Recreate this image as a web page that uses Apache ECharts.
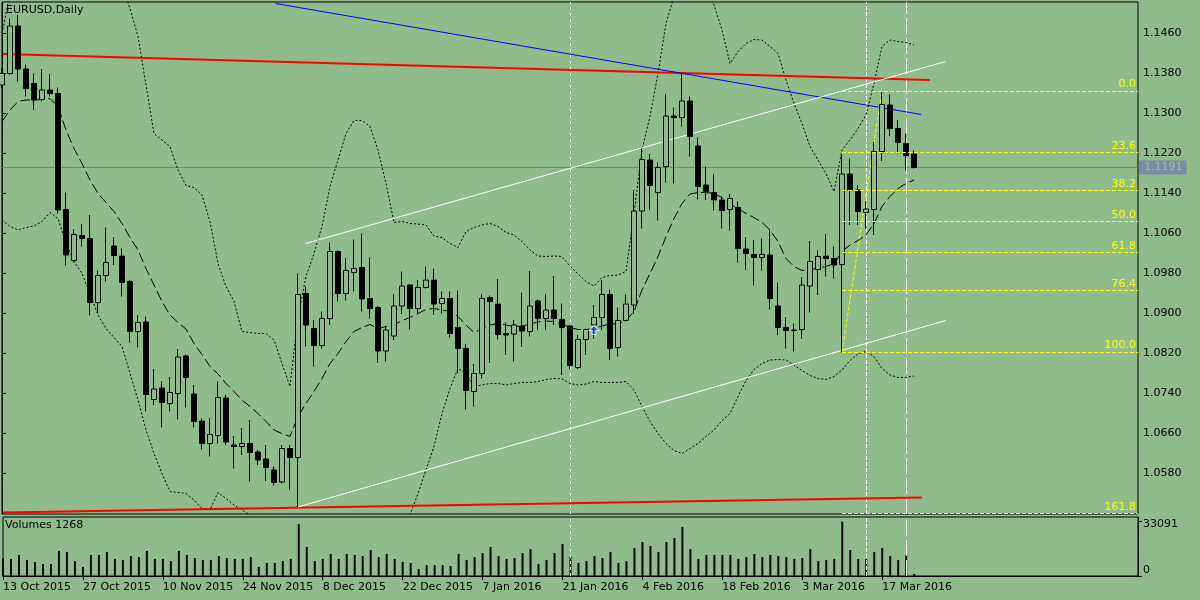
<!DOCTYPE html>
<html><head><meta charset="utf-8">
<script src="https://cdn.jsdelivr.net/npm/echarts@6/dist/echarts.min.js"></script>
<style>html,body{margin:0;padding:0;background:#8FBC8B}#c{width:1200px;height:600px}</style>
</head><body><div id="c"></div><script>
const categories = [
'2015.10.13','2015.10.14','2015.10.15','2015.10.16','2015.10.19','2015.10.20','2015.10.21','2015.10.22','2015.10.23','2015.10.26','2015.10.27','2015.10.28','2015.10.29','2015.10.30',
'2015.11.02','2015.11.03','2015.11.04','2015.11.05','2015.11.06','2015.11.09','2015.11.10','2015.11.11','2015.11.12','2015.11.13','2015.11.16','2015.11.17','2015.11.18','2015.11.19','2015.11.20','2015.11.23','2015.11.24','2015.11.25','2015.11.26','2015.11.27','2015.11.30',
'2015.12.01','2015.12.02','2015.12.03','2015.12.04','2015.12.07','2015.12.08','2015.12.09','2015.12.10','2015.12.11','2015.12.14','2015.12.15','2015.12.16','2015.12.17','2015.12.18','2015.12.21','2015.12.22','2015.12.23','2015.12.24','2015.12.28','2015.12.29','2015.12.30','2015.12.31',
'2016.01.04','2016.01.05','2016.01.06','2016.01.07','2016.01.08','2016.01.11','2016.01.12','2016.01.13','2016.01.14','2016.01.15','2016.01.18','2016.01.19','2016.01.20','2016.01.21','2016.01.22','2016.01.25','2016.01.26','2016.01.27','2016.01.28','2016.01.29',
'2016.02.01','2016.02.02','2016.02.03','2016.02.04','2016.02.05','2016.02.08','2016.02.09','2016.02.10','2016.02.11','2016.02.12','2016.02.15','2016.02.16','2016.02.17','2016.02.18','2016.02.19','2016.02.22','2016.02.23','2016.02.24','2016.02.25','2016.02.26','2016.02.29',
'2016.03.01','2016.03.02','2016.03.03','2016.03.04','2016.03.07','2016.03.08','2016.03.09','2016.03.10','2016.03.11','2016.03.14','2016.03.15','2016.03.16','2016.03.17','2016.03.18','2016.03.21','2016.03.22','2016.03.23',
'2016.03.24','2016.03.25','2016.03.28','2016.03.29','2016.03.30','2016.03.31','2016.04.01','2016.04.04','2016.04.05','2016.04.06','2016.04.07','2016.04.08','2016.04.11','2016.04.12','2016.04.13','2016.04.14','2016.04.15','2016.04.18','2016.04.19','2016.04.20','2016.04.21','2016.04.22','2016.04.25','2016.04.26','2016.04.27','2016.04.28','2016.04.29','2016.05.02'
];
const dateTickLabels = ['13 Oct 2015','27 Oct 2015','10 Nov 2015','24 Nov 2015','8 Dec 2015','22 Dec 2015','7 Jan 2016','21 Jan 2016','4 Feb 2016','18 Feb 2016','3 Mar 2016','17 Mar 2016'];
const tickEvery = 10;

const opens = [1.1356,1.1379,1.1474,1.1388,1.1359,1.1327,1.1346,1.1339,1.1107,1.1005,
1.1055,1.1049,1.0921,1.0975,1.1034,1.1014,1.0963,1.0863,1.0882,1.0727,
1.0750,1.0719,1.0739,1.0814,1.0738,1.0684,1.0639,1.0655,1.0730,1.0636,
1.0633,1.0639,1.0622,1.0608,1.0586,1.0562,1.0629,1.0611,1.0939,1.0869,
1.0835,1.0889,1.1023,1.0939,1.0981,1.0991,1.0929,1.0911,1.0824,1.0854,
1.0914,1.0956,1.0909,1.0951,1.0966,1.0919,1.0929,1.0871,1.0829,1.0743,
1.0779,1.0931,1.0918,1.0859,1.0858,1.0873,1.0863,1.0924,1.0889,1.0906,
1.0887,1.0874,1.0791,1.0847,1.0876,1.0891,1.0937,1.0831,1.0885,1.0916,
1.1104,1.1206,1.1141,1.1193,1.1294,1.1291,1.1324,1.1234,1.1156,1.1141,
1.1126,1.1107,1.1111,1.1028,1.1017,1.1011,1.1016,1.0914,1.0871,1.0866,
1.0867,1.0954,1.0987,1.1014,1.1009,1.0997,1.1178,1.1146,1.1101,1.1107,
1.1223,1.1316,1.1269,1.1239,1.1218];
const highs = [1.1390,1.1489,1.1496,1.1397,1.1379,1.1388,1.1378,1.1351,1.1141,1.1067,
1.1078,1.1096,1.0985,1.1071,1.1051,1.1029,1.0966,1.0896,1.0893,1.0788,
1.0763,1.0772,1.0828,1.0817,1.0756,1.0689,1.0690,1.0763,1.0736,1.0654,
1.0670,1.0686,1.0626,1.0636,1.0593,1.0636,1.0636,1.0979,1.0953,1.0886,
1.0903,1.1041,1.1025,1.1010,1.1047,1.1059,1.1011,1.0914,1.0873,1.0938,
1.0983,1.0958,1.0966,1.0993,1.0989,1.0943,1.0943,1.0945,1.0838,1.0798,
1.0938,1.0935,1.0968,1.0881,1.0886,1.0941,1.0984,1.0927,1.0938,1.0974,
1.0919,1.0876,1.0856,1.0869,1.0916,1.0966,1.0947,1.0911,1.0937,1.1146,
1.1229,1.1218,1.1201,1.1338,1.1311,1.1378,1.1333,1.1251,1.1193,1.1178,
1.1133,1.1138,1.1123,1.1051,1.1046,1.1049,1.1067,1.0961,1.0891,1.0879,
1.0971,1.1044,1.1025,1.1058,1.1033,1.1216,1.1209,1.1156,1.1124,1.1242,
1.1344,1.1337,1.1286,1.1259,1.1225];
const lows = [1.1350,1.1376,1.1363,1.1333,1.1306,1.1323,1.1333,1.1099,1.0995,1.1001,
1.1033,1.0895,1.0901,1.0963,1.0996,1.0933,1.0841,1.0831,1.0703,1.0716,
1.0671,1.0703,1.0687,1.0711,1.0671,1.0627,1.0613,1.0639,1.0636,1.0589,
1.0616,1.0563,1.0596,1.0564,1.0555,1.0559,1.0546,1.0512,1.0833,1.0793,
1.0829,1.0876,1.0923,1.0925,1.0943,1.0903,1.0889,1.0801,1.0803,1.0846,
1.0898,1.0867,1.0899,1.0949,1.0897,1.0899,1.0851,1.0780,1.0707,1.0713,
1.0769,1.0801,1.0847,1.0817,1.0803,1.0833,1.0853,1.0866,1.0866,1.0876,
1.0776,1.0787,1.0788,1.0817,1.0849,1.0866,1.0806,1.0813,1.0883,1.0899,
1.1069,1.1106,1.1085,1.1161,1.1159,1.1273,1.1213,1.1127,1.1126,1.1105,
1.1069,1.1065,1.1001,1.0986,1.0955,1.0985,1.0907,1.0856,1.0829,1.0823,
1.0849,1.0901,1.0936,1.0973,1.0969,1.0821,1.1076,1.1076,1.1069,1.1056,
1.1204,1.1254,1.1219,1.1186,1.1189];
const closes = [1.1379,1.1474,1.1388,1.1349,1.1326,1.1346,1.1339,1.1106,1.1016,1.1057,
1.1049,1.0921,1.0975,1.1001,1.1015,1.0961,1.0863,1.0881,1.0737,1.0748,
1.0721,1.0741,1.0812,1.0771,1.0683,1.0639,1.0657,1.0731,1.0642,1.0633,
1.0639,1.0621,1.0606,1.0591,1.0561,1.0629,1.0611,1.0937,1.0876,1.0835,
1.0889,1.1023,1.0939,1.0985,1.0989,1.0928,1.0909,1.0824,1.0866,1.0914,
1.0954,1.0909,1.0951,1.0966,1.0918,1.0929,1.0859,1.0829,1.0745,1.0779,
1.0929,1.0923,1.0857,1.0856,1.0876,1.0864,1.0914,1.0889,1.0906,1.0889,
1.0871,1.0795,1.0847,1.0867,1.0891,1.0937,1.0829,1.0885,1.0918,1.1104,
1.1207,1.1155,1.1191,1.1294,1.1291,1.1324,1.1253,1.1153,1.1143,1.1126,
1.1105,1.1129,1.1029,1.1019,1.1011,1.1017,1.0929,1.0871,1.0865,1.0865,
1.0956,1.1003,1.1013,1.1009,1.0996,1.1178,1.1146,1.1103,1.1108,1.1223,
1.1317,1.1269,1.1241,1.1215,1.1191];
const volumes = [10960,10350,12790,9740,8530,7310,7310,15230,14620,9140,
5480,12790,12790,14620,10350,9740,12180,11570,15230,10350,
10350,9140,15230,12790,10960,9740,9740,12180,10960,10350,
10350,11570,5480,7920,7920,9140,10350,31670,17660,9140,
10350,13400,10350,13400,12790,12180,15830,11570,13400,10350,
8530,7920,4260,6700,6700,6700,6090,13400,9740,11570,
14010,17660,12180,10350,10960,14010,16440,7310,9740,14010,
19490,12180,7920,9140,12180,10960,14620,7920,9140,17050,
20710,18270,14620,20710,23140,29840,16440,10350,12790,12790,
12790,12790,10350,11570,13400,11570,12790,12180,11570,10350,
10960,16440,9140,9740,10350,33091,15830,10350,10350,14620,
17050,12180,9740,12790,1268];
const bbUpper = [1.1459,1.1540,null,null,null,null,null,null,null,null,
null,null,null,null,null,1.1553,1.1509,1.1453,1.1356,1.1259,
1.1246,1.1233,1.1186,1.1155,1.1151,1.1136,1.1083,1.0999,1.0953,1.0923,
1.0863,1.0861,1.0859,1.0859,1.0846,1.0799,1.0753,1.0893,1.0973,1.1019,
1.1073,1.1153,1.1206,1.1259,1.1285,1.1285,1.1273,1.1226,1.1159,1.1081,
1.1083,1.1079,1.1078,1.1076,1.1054,1.1051,1.1039,1.1031,1.1063,1.1071,
1.1076,1.1079,1.1073,1.1061,1.1056,1.1043,1.1026,1.1014,1.1013,1.1014,
1.1013,1.0994,1.0978,1.0963,1.0954,1.0971,1.0975,1.0976,1.0983,1.1099,
1.1226,1.1293,1.1379,1.1479,1.1533,1.1570,1.1590,1.1580,1.1550,1.1516,
1.1466,1.1399,1.1423,1.1439,1.1447,1.1446,1.1433,1.1419,1.1366,1.1319,
1.1279,1.1233,1.1206,1.1179,1.1143,1.1226,1.1246,1.1269,1.1296,1.1359,
1.1433,1.1446,1.1443,1.1441,1.1436];
const bbMiddle = [1.1283,1.1306,1.1323,1.1326,1.1326,1.1327,1.1329,1.1313,1.1266,1.1229,
1.1199,1.1166,1.1139,1.1121,1.1103,1.1079,1.1051,1.1026,1.0989,1.0956,
1.0923,1.0896,1.0881,1.0868,1.0839,1.0817,1.0793,1.0778,1.0759,1.0743,
1.0726,1.0713,1.0699,1.0683,1.0666,1.0659,1.0653,1.0693,1.0719,1.0743,
1.0769,1.0799,1.0819,1.0843,1.0863,1.0871,1.0877,1.0869,1.0873,1.0876,
1.0885,1.0891,1.0899,1.0907,1.0909,1.0906,1.0903,1.0893,1.0876,1.0861,
1.0869,1.0876,1.0879,1.0876,1.0873,1.0874,1.0878,1.0882,1.0884,1.0883,
1.0878,1.0871,1.0867,1.0867,1.0869,1.0874,1.0878,1.0879,1.0885,1.0903,
1.0946,1.0979,1.1013,1.1053,1.1089,1.1119,1.1138,1.1141,1.1141,1.1139,
1.1131,1.1118,1.1109,1.1099,1.1091,1.1081,1.1066,1.1043,1.1009,1.0993,
1.0985,1.0987,1.0990,1.0993,1.0999,1.1023,1.1036,1.1045,1.1056,1.1079,
1.1113,1.1133,1.1149,1.1159,1.1166];
const bbLower = [1.1086,1.1073,1.1066,1.1071,1.1074,1.1083,1.1101,1.1089,1.1039,1.1003,
1.0979,1.0939,1.0896,1.0869,1.0851,1.0833,1.0779,1.0726,1.0666,1.0619,
1.0579,1.0543,1.0541,1.0539,1.0526,1.0509,1.0507,1.0541,1.0529,1.0516,
1.0506,1.0496,1.0488,1.0484,1.0478,1.0476,1.0470,1.0450,1.0440,1.0440,
1.0440,1.0430,1.0430,1.0430,1.0440,1.0460,1.0470,1.0475,1.0480,1.0485,
1.0490,1.0496,1.0539,1.0586,1.0633,1.0699,1.0749,1.0789,1.0779,1.0753,
1.0756,1.0759,1.0759,1.0756,1.0759,1.0761,1.0761,1.0763,1.0767,1.0769,
1.0768,1.0759,1.0756,1.0758,1.0763,1.0761,1.0761,1.0761,1.0763,1.0746,
1.0713,1.0683,1.0659,1.0639,1.0625,1.0619,1.0629,1.0639,1.0653,1.0666,
1.0685,1.0699,1.0733,1.0765,1.0787,1.0799,1.0806,1.0807,1.0806,1.0796,
1.0785,1.0775,1.0769,1.0767,1.0773,1.0786,1.0805,1.0818,1.0823,1.0813,
1.0789,1.0776,1.0771,1.0771,1.0774];

const priceTicks = [1.0580,1.0660,1.0740,1.0820,1.0900,1.0980,1.1060,1.1140,1.1220,1.1300,1.1380,1.1460];
const volumeTicks = [0, 33091];
const currentPrice = 1.1191;

// drawn objects: [bar index, price]
const redTopLine = [[0.09,1.1418],[115.96,1.1366]];
const redBottomLine = [[0.09,1.0501],[114.96,1.0531]];
const blueLine = [[34.2,1.1519],[114.9,1.1297]];
const whiteUpperLine = [[37.96,1.1039],[117.96,1.1403]];
const whiteLowerLine = [[37.0,1.0512],[117.96,1.0885]];
const fibLow = 1.0822, fibHigh = 1.1344, fibLowIdx = 105, fibHighIdx = 110;
const fibLevels = [0, 23.6, 38.2, 50, 61.8, 76.4, 100, 161.8];
const arrowPoints = [[74, 1.0866]];
const vLineIdx = [71, 108, 113];
const vLineDash = [[3,3],[4,2],[16,4]];

const BG = '#8FBC8B';
const FONT = 'DejaVu Sans';
const lastIdx = categories.length - 1;
const candleData = opens.map((o,i)=>[o, closes[i], lows[i], highs[i]]);
const showTick = i => i % tickEvery === 0 && i / tickEvery < dateTickLabels.length;

function vLineMarks(){
  return vLineIdx.map((ix,k)=>({xAxis: categories[ix], lineStyle:{color:'#ffffff', width:1, type:vLineDash[k]}, label:{show:false}}));
}
function trend(data, color, width, type){
  return {type:'line', xAxisIndex:2, yAxisIndex:0, data:data, symbol:'none', silent:true,
    lineStyle:{color:color, width:width, type:type||'solid'}, z:3, emphasis:{disabled:true}};
}
function band(data, dash){
  return {type:'line', xAxisIndex:0, yAxisIndex:0, data:data, symbol:'none', silent:true, connectNulls:false,
    lineStyle:{color:'#000', width:1, type:dash}, z:2, emphasis:{disabled:true}};
}
const fibMarks = fibLevels.map(l=>{
  const p = fibHigh - l/100*(fibHigh - fibLow);
  return [{coord:[fibLowIdx, p], label:{formatter: l.toFixed(1)}}, {coord:[lastIdx, p]}];
});

const chart = echarts.init(document.getElementById('c'), null, {renderer:'canvas'});
chart.setOption({
  animation:false,
  backgroundColor:BG,
  textStyle:{fontFamily:FONT, fontSize:11},
  title:[
    {text:'EURUSD,Daily', left:6, top:5, padding:0, textStyle:{fontSize:11, fontWeight:'normal', color:'#000', fontFamily:FONT}},
    {text:'Volumes 1268', left:5, top:520, padding:0, textStyle:{fontSize:11, fontWeight:'normal', color:'#000', fontFamily:FONT}}
  ],
  grid:[
    {left:2, top:2, width:1136, height:512, show:true, borderColor:'#000', borderWidth:1, backgroundColor:'transparent'},
    {left:2, top:517, width:1136, height:59, show:true, borderColor:'#000', borderWidth:1, backgroundColor:'transparent'}
  ],
  xAxis:[
    {type:'category', gridIndex:0, data:categories, boundaryGap:false, axisLine:{show:false}, axisTick:{show:false}, axisLabel:{show:false}, splitLine:{show:false}},
    {type:'category', gridIndex:1, data:categories, boundaryGap:false,
      axisLine:{show:true, lineStyle:{color:'#000'}},
      axisTick:{show:true, interval:(i)=>showTick(i), length:4, lineStyle:{color:'#000'}},
      axisLabel:{interval:(i)=>showTick(i), formatter:(v,i)=> showTick(i) ? dateTickLabels[i/tickEvery] : '', align:'left', margin:6, color:'#000', fontSize:11, fontFamily:FONT},
      splitLine:{show:false}},
    {type:'value', gridIndex:0, min:0, max:lastIdx, show:false}
  ],
  yAxis:[
    {type:'value', gridIndex:0, position:'right', min:1.0498, max:1.1522,
      axisLine:{show:true, lineStyle:{color:'#000'}},
      axisTick:{show:true, customValues:priceTicks, length:4, lineStyle:{color:'#000'}},
      axisLabel:{customValues:priceTicks, formatter:v=>v.toFixed(4), color:'#000', margin:5, fontSize:11, fontFamily:FONT},
      splitLine:{show:false}},
    {type:'value', gridIndex:1, position:'right', min:0, max:35955,
      axisLine:{show:true, lineStyle:{color:'#000'}},
      axisTick:{show:true, customValues:volumeTicks, length:4, lineStyle:{color:'#000'}},
      axisLabel:{customValues:volumeTicks, margin:5,
        formatter:v=> v === 0 ? '{z|0}' : '{t|' + v + '}',
        rich:{
          z:{color:'#000', fontSize:11, fontFamily:FONT, padding:[0,0,11,0]},
          t:{color:'#000', fontSize:11, fontFamily:FONT, padding:[4,0,0,0]}
        }},
      splitLine:{show:false}}
  ],
  series:[
    // current price line
    {type:'line', xAxisIndex:2, yAxisIndex:0, data:[[0, currentPrice],[lastIdx, currentPrice]], symbol:'none', silent:true, z:1,
      lineStyle:{color:'#6a7cb4', width:1.2}, emphasis:{disabled:true},
      endLabel:{show:true, formatter:currentPrice.toFixed(4), backgroundColor:'#7b8aa6', color:'#a3bfa6',
        padding:[2,4,1,5], distance:1, fontSize:11, fontFamily:FONT}},
    band(bbUpper, [2,2]),
    band(bbLower, [2,2]),
    band(bbMiddle, [10,4]),
    {type:'candlestick', xAxisIndex:0, yAxisIndex:0, data:candleData, barWidth:5, clip:false, z:4,
      itemStyle:{color:BG, color0:'#000', borderColor:'#000', borderColor0:'#000', borderWidth:1},
      emphasis:{disabled:true},
      markLine:{symbol:'none', silent:true, animation:false, z:1, data:vLineMarks()}},
    trend(redTopLine, '#ff0000', 2),
    trend(redBottomLine, '#ff0000', 2),
    trend(blueLine, '#0000ff', 1),
    trend(whiteUpperLine, '#ffffff', 1),
    trend(whiteLowerLine, '#ffffff', 1),
    Object.assign(trend([[fibLowIdx, fibLow],[fibHighIdx, fibHigh]], '#ffff00', 1, [4,2]), {
      markLine:{symbol:'none', silent:true, animation:false,
        lineStyle:{color:'#ffff00', width:1, type:[4,2]},
        label:{show:true, position:'insideEndTop', color:'#ffff00', fontSize:11, fontFamily:FONT, distance:[2,1]},
        data:fibMarks}
    }),
    {type:'scatter', xAxisIndex:0, yAxisIndex:0, data:arrowPoints, z:6, silent:true,
      symbol:'path://M5,0 L10,5 L7,5 L7,9 L3,9 L3,5 L0,5 Z', symbolSize:[10,9],
      itemStyle:{color:'#1565c0', borderColor:'#ffffff', borderWidth:1}},
    {type:'bar', xAxisIndex:1, yAxisIndex:1, data:volumes, barWidth:2, silent:true,
      itemStyle:{color:'#000'},
      markLine:{symbol:'none', silent:true, animation:false, data:vLineMarks()}}
  ]
});
</script></body></html>
